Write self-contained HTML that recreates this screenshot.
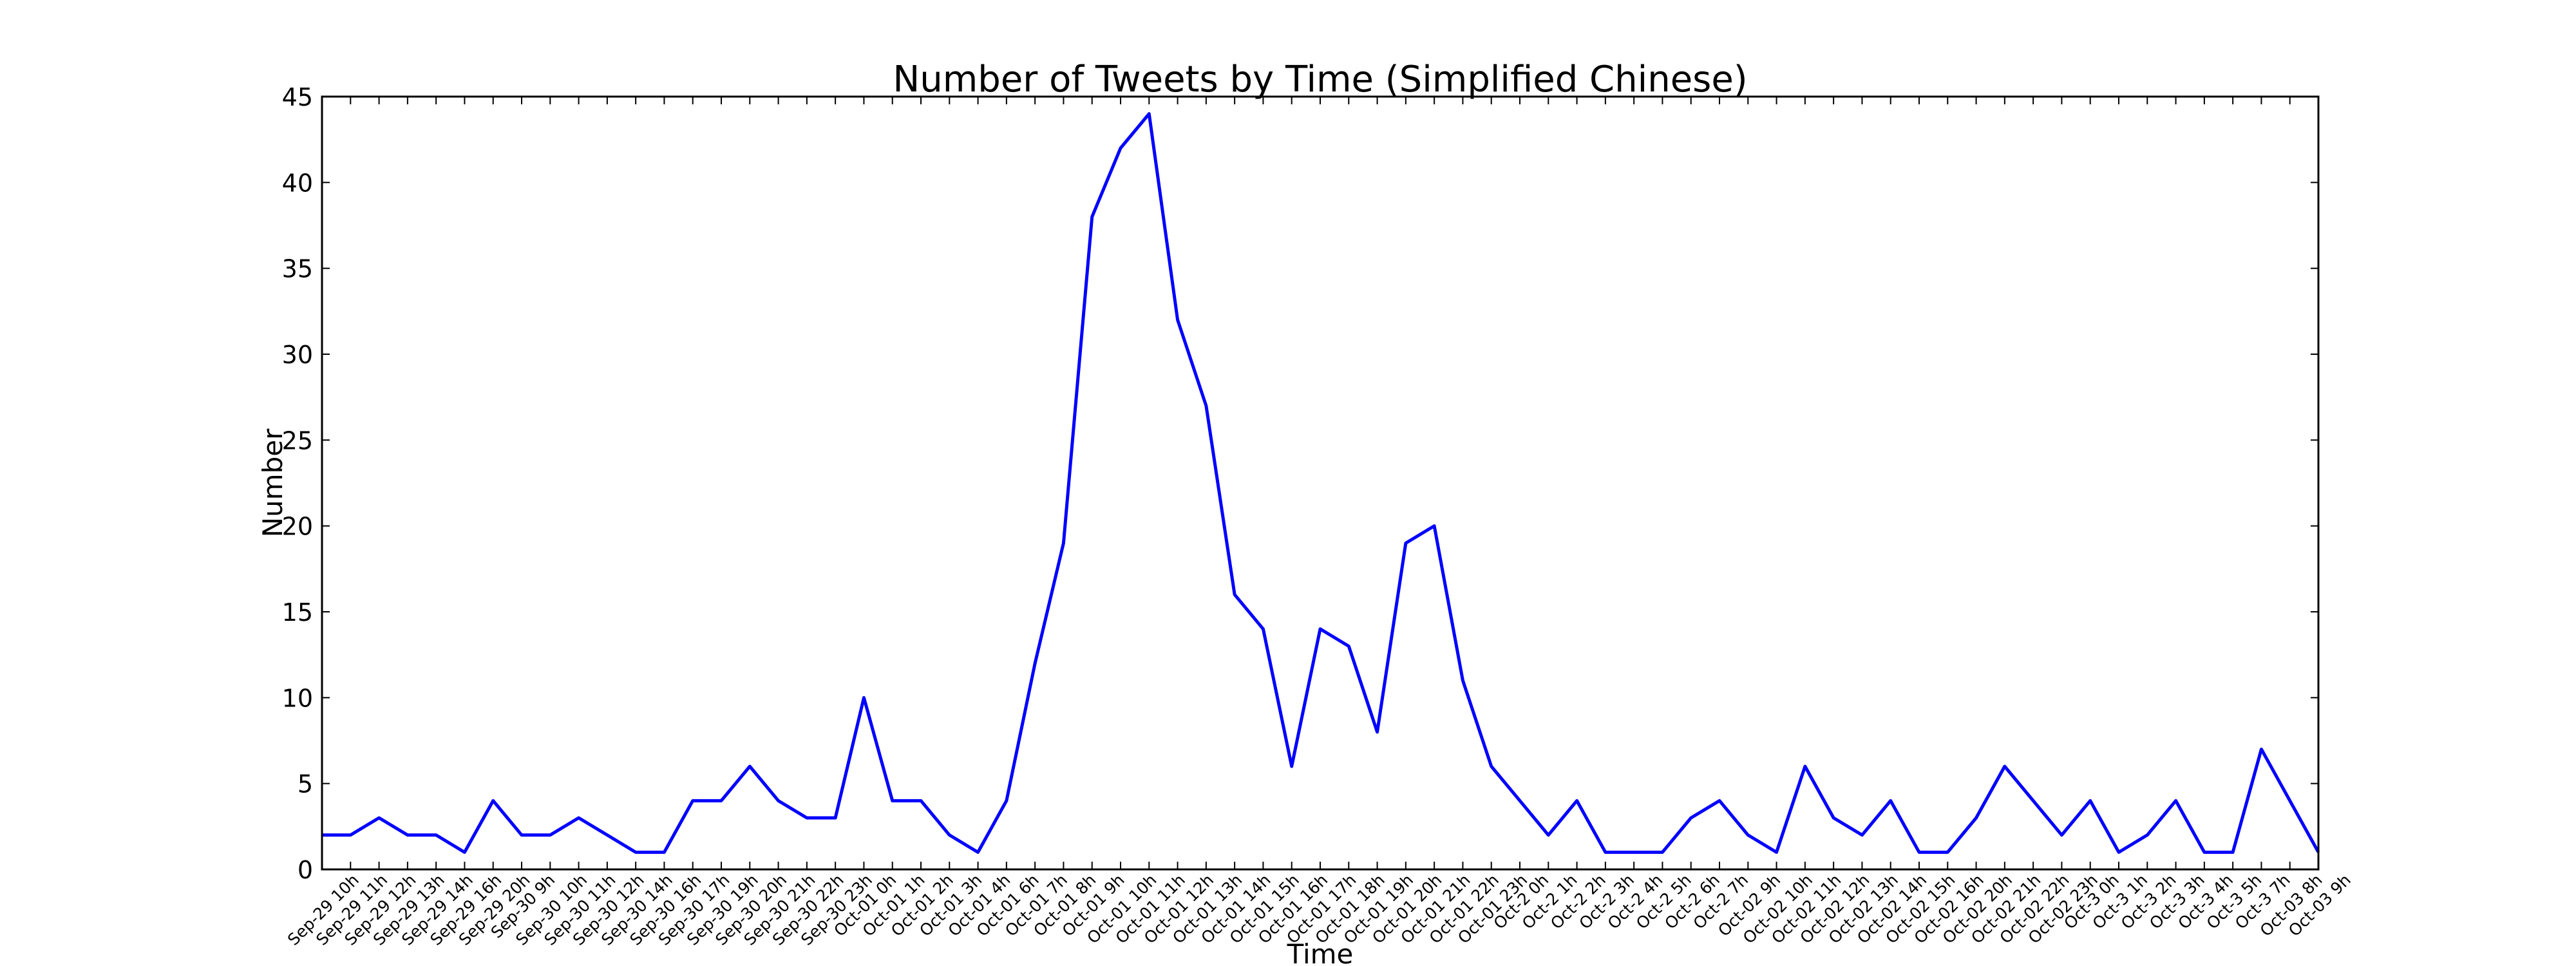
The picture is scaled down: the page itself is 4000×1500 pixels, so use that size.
<!DOCTYPE html>
<html><head><meta charset="utf-8"><style>
html,body{margin:0;padding:0;background:#fff;}
svg{display:block;font-family:"DejaVu Sans","Liberation Sans",sans-serif;}
</style></head><body>
<svg id="chart" width="4000" height="1500" viewBox="0 0 4000 1500">
<rect x="0" y="0" width="4000" height="1500" fill="#fff"/>
<text x="2050" y="142" font-size="56" text-anchor="middle">Number of Tweets by Time (Simplified Chinese)</text>
<text x="2050" y="1496" font-size="42" text-anchor="middle">Time</text>
<text x="0" y="0" font-size="42" text-anchor="middle" transform="translate(438,750) rotate(-90)">Number</text>
<g id="grid"></g>
<g id="series"></g>
<rect x="500" y="150" width="3100" height="1200" fill="none" stroke="#000" stroke-width="3"/>
<g id="xlabels"></g>
</svg>
<script>
const categories = ["Sep-29 10h","Sep-29 11h","Sep-29 12h","Sep-29 13h","Sep-29 14h","Sep-29 16h","Sep-29 20h","Sep-30 9h","Sep-30 10h","Sep-30 11h","Sep-30 12h","Sep-30 14h","Sep-30 16h","Sep-30 17h","Sep-30 19h","Sep-30 20h","Sep-30 21h","Sep-30 22h","Sep-30 23h","Oct-01 0h","Oct-01 1h","Oct-01 2h","Oct-01 3h","Oct-01 4h","Oct-01 6h","Oct-01 7h","Oct-01 8h","Oct-01 9h","Oct-01 10h","Oct-01 11h","Oct-01 12h","Oct-01 13h","Oct-01 14h","Oct-01 15h","Oct-01 16h","Oct-01 17h","Oct-01 18h","Oct-01 19h","Oct-01 20h","Oct-01 21h","Oct-01 22h","Oct-01 23h","Oct-2 0h","Oct-2 1h","Oct-2 2h","Oct-2 3h","Oct-2 4h","Oct-2 5h","Oct-2 6h","Oct-2 7h","Oct-02 9h","Oct-02 10h","Oct-02 11h","Oct-02 12h","Oct-02 13h","Oct-02 14h","Oct-02 15h","Oct-02 16h","Oct-02 20h","Oct-02 21h","Oct-02 22h","Oct-02 23h","Oct-3 0h","Oct-3 1h","Oct-3 2h","Oct-3 3h","Oct-3 4h","Oct-3 5h","Oct-3 7h","Oct-03 8h","Oct-03 9h"];
const tweetCounts = [2,2,3,2,2,1,4,2,2,3,2,1,1,4,4,6,4,3,3,10,4,4,2,1,4,12,19,38,42,44,32,27,16,14,6,14,13,8,19,20,11,6,4,2,4,1,1,1,3,4,2,1,6,3,2,4,1,1,3,6,4,2,4,1,2,4,1,1,7,4,1];
const yTicks = [0,5,10,15,20,25,30,35,40,45];
</script>
<script>
const NS="http://www.w3.org/2000/svg";
const L=500,R=3600,T=150,B=1350,YMAX=45;
function xs(i){return L+(R-L)*i/(categories.length-1);}
function ys(v){return B-(B-T)*v/YMAX;}
const grid=document.getElementById('grid');
const series=document.getElementById('series');
const xl=document.getElementById('xlabels');
function mk(tag,attrs,parent){const e=document.createElementNS(NS,tag);for(const k in attrs)e.setAttribute(k,attrs[k]);parent.appendChild(e);return e;}
yTicks.forEach(v=>{
  const y=ys(v);
  const t1=mk('line',{x1:L,x2:L+12,y1:y,y2:y,stroke:'#000','stroke-width':2},grid);
  
  
  const t2=mk('line',{x1:R-12,x2:R,y1:y,y2:y,stroke:'#000','stroke-width':2},grid);
  
  
  const tx=mk('text',{x:L-14,y:y+14,'font-size':38,'text-anchor':'end'},grid);
  tx.textContent=v;
  
  
});
categories.forEach((c,i)=>{
  const x=xs(i);
  const t1=mk('line',{x1:x,x2:x,y1:B-12,y2:B,stroke:'#000','stroke-width':2},grid);
  
  
  const t2=mk('line',{x1:x,x2:x,y1:T,y2:T+12,stroke:'#000','stroke-width':2},grid);
  
  
  const tx=mk('text',{'font-size':25,'text-anchor':'end'},xl);
  tx.textContent=c;
  
  
  const w=tx.getComputedTextLength()*0.7071;
  const ax=x+w/2+8, ay=1368;
  tx.setAttribute('x',ax);tx.setAttribute('y',ay);
  tx.setAttribute('transform','rotate(-45 '+ax+' '+ay+')');
});
const pts=tweetCounts.map((v,i)=>xs(i)+','+ys(v)).join(' ');
const pl=mk('polyline',{points:pts,fill:'none',stroke:'#0000ff','stroke-width':5,'stroke-linejoin':'round'},series);


</script>
</body></html>
